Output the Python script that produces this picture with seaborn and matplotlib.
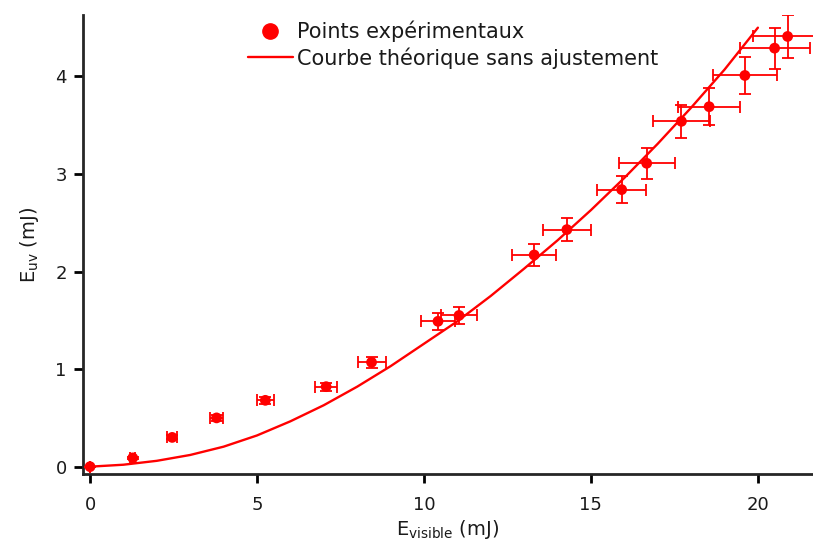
import matplotlib
matplotlib.use("Agg")
import matplotlib.pyplot as plt
import seaborn as sns
import pandas as pd
from matplotlib.lines import Line2D

# Measured points: visible pulse energy vs. UV energy (mJ), with uncertainties
e_visible = [0.0, 1.28, 2.46, 3.79, 5.25, 7.07, 8.43, 10.42, 11.05, 13.30,
             14.28, 15.92, 16.67, 17.71, 18.54, 19.61, 20.50, 20.89]
e_uv = [0.0, 0.09, 0.30, 0.50, 0.68, 0.82, 1.07, 1.49, 1.55, 2.17,
        2.43, 2.84, 3.11, 3.54, 3.69, 4.01, 4.29, 4.41]
err_visible = [0.0, 0.07, 0.15, 0.19, 0.26, 0.34, 0.42, 0.52, 0.55, 0.66,
               0.72, 0.73, 0.84, 0.86, 0.93, 0.96, 1.05, 1.05]
err_uv = [0.0, 0.01, 0.02, 0.03, 0.035, 0.04, 0.055, 0.085, 0.085, 0.11,
          0.12, 0.14, 0.16, 0.17, 0.19, 0.19, 0.21, 0.22]

# Theoretical conversion curve (no fitting), tabulated
theory_visible = [0, 1, 2, 3, 4, 5, 6, 7, 8, 9, 10,
                  11, 12, 13, 14, 15, 16, 17, 18, 19, 20]
theory_uv = [0.0, 0.02, 0.06, 0.12, 0.205, 0.32, 0.465, 0.63, 0.82, 1.03, 1.26,
             1.49, 1.75, 2.03, 2.32, 2.63, 2.96, 3.31, 3.68, 4.07, 4.50]

label_points = "Points expérimentaux"
label_theory = "Courbe théorique sans ajustement"

sns.set_style("ticks")
plt.rcParams["font.family"] = ["DejaVu Sans"]
plt.rcParams["mathtext.default"] = "regular"

red = "#ff0000"
ink = "#1a1a1a"
fig = plt.figure(figsize=(8.13, 5.45), dpi=100)
ax = fig.add_axes([0.1017, 0.1303, 0.8983, 0.8422])

pts = pd.DataFrame({"x": e_visible, "y": e_uv})
theo = pd.DataFrame({"x": theory_visible, "y": theory_uv})

sns.lineplot(data=theo, x="x", y="y", ax=ax, color=red, lw=1.7, zorder=2)
ax.errorbar(e_visible, e_uv, xerr=err_visible, yerr=err_uv, fmt="none",
            ecolor=red, elinewidth=1.3, capsize=4.2, capthick=1.3, zorder=3)
sns.scatterplot(data=pts, x="x", y="y", ax=ax, color=red, s=60,
                edgecolor="none", zorder=4)

ax.set_xlim(-0.22, 21.65)
ax.set_ylim(-0.075, 4.63)
ax.set_xticks([0, 5, 10, 15, 20])
ax.set_yticks([0, 1, 2, 3, 4])

for side in ["top", "right"]:
    ax.spines[side].set_visible(False)
for side in ["left", "bottom"]:
    ax.spines[side].set_linewidth(2.0)
ax.tick_params(axis="both", which="major", length=6.5, width=2.0,
               labelsize=13, colors="black", labelcolor=ink)
ax.tick_params(axis="x", pad=9)
ax.tick_params(axis="y", pad=5)

ax.set_xlabel(r"E$_{visible}$ (mJ)", fontsize=14, color=ink, labelpad=3)
ax.set_ylabel(r"E$_{uv}$ (mJ)", fontsize=14, color=ink, labelpad=10)

handles = [
    Line2D([], [], marker="o", ls="none", color=red, markersize=11),
    Line2D([], [], color=red, lw=1.7),
]
ax.legend(handles, [label_points, label_theory], loc="upper left",
          bbox_to_anchor=(0.226, 0.988), frameon=False, fontsize=15,
          handlelength=2.15, handletextpad=0.2, labelspacing=0.25,
          borderpad=0, borderaxespad=0, labelcolor=ink)

fig.savefig("out.png", dpi=100)
